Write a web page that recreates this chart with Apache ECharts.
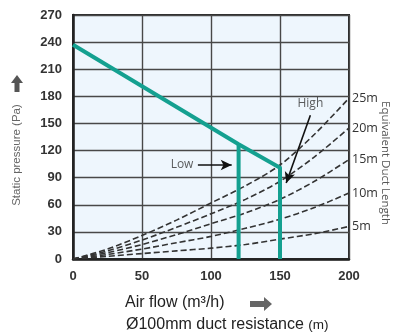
<!DOCTYPE html>
<html><head><meta charset="utf-8">
<script src="https://cdn.jsdelivr.net/npm/echarts@6/dist/echarts.min.js"></script>
<style>html,body{margin:0;padding:0;background:#fff}#c{width:398px;height:336px}</style>
</head><body><div id="c"></div><script>
// ---- data ----
const xTicks = [0, 50, 100, 150, 200];
const yTicks = [0, 30, 60, 90, 120, 150, 180, 210, 240, 270];
const flowPts = [0, 25, 50, 75, 100, 125, 150, 175, 200];
const duct5m  = [0, 3, 6, 9, 12, 16, 22, 28, 36];
const duct10m = [0, 5, 11, 18, 25, 34, 44, 57, 73];
const duct15m = [0, 7, 16, 27, 39, 51, 66, 86, 110];
const duct20m = [0, 9, 21, 35, 50, 66, 86, 113, 145];
const duct25m = [0, 11, 26, 43, 62, 81, 104, 138, 178];
const ductNames = ['5m', '10m', '15m', '20m', '25m'];
const fanFlow = [0, 120, 150, 150];
const fanPressure = [237, 127, 101, 0];
const lowFlow = [120, 120];
const lowPressure = [0, 127];

const ducts = [duct5m, duct10m, duct15m, duct20m, duct25m];
const green = '#14a090';
const series = [];
ducts.forEach((d, i) => {
  series.push({
    type: 'line', name: ductNames[i], smooth: 0.3, symbol: 'none',
    data: flowPts.map((f, j) => [f, d[j]]),
    lineStyle: { color: '#333', width: 1.6, type: [6, 3] },
    endLabel: { show: true, formatter: ductNames[i], color: '#333', fontSize: 12.5,
      fontFamily: 'Open Sans, Arial, sans-serif', distance: 3 },
    z: 3
  });
});
series.push({
  type: 'line', symbol: 'none', data: fanFlow.map((f, j) => [f, fanPressure[j]]),
  lineStyle: { color: green, width: 4, join: 'round' }, z: 5
});
series.push({
  type: 'line', symbol: 'none', data: lowFlow.map((f, j) => [f, lowPressure[j]]),
  lineStyle: { color: green, width: 4 }, z: 5
});
// arrows and labels
series.push({
  type: 'line', data: [], symbol: 'none',
  markLine: {
    silent: true, symbol: ['none', 'arrow'], symbolSize: [8, 11],
    lineStyle: { color: '#111', width: 1.6, type: 'solid' }, label: { show: false },
    data: [
      [{ coord: [90.5, 104] }, { coord: [115, 104] }],
      [{ coord: [172, 159] }, { coord: [154.5, 84] }]
    ]
  }, z: 6
});
series.push({
  type: 'scatter', symbolSize: 0, silent: true,
  data: [
    { value: [79, 104], label: { formatter: 'Low' } },
    { value: [172, 172], label: { formatter: 'High' } }
  ],
  label: { show: true, position: 'inside', color: '#333', fontSize: 12,
    fontFamily: 'Open Sans, Arial, sans-serif' }, z: 7
});

const chart = echarts.init(document.getElementById('c'));
chart.setOption({
  animation: false,
  grid: { left: 73, right: 49, top: 15, bottom: 77, show: true,
    backgroundColor: '#eef6fd', borderColor: '#2a2a2a', borderWidth: 2 },
  xAxis: {
    type: 'value', min: 0, max: 200, interval: 50,
    axisLine: { show: true, lineStyle: { color: '#222', width: 2.5 } },
    axisTick: { show: false },
    splitLine: { show: true, lineStyle: { color: '#484848', width: 1.4 } },
    axisLabel: { color: '#333', fontWeight: 'bold', fontSize: 13, margin: 11,
      fontFamily: 'Arial, Liberation Sans, sans-serif' }
  },
  yAxis: {
    type: 'value', min: 0, max: 270, interval: 30,
    axisLine: { show: true, lineStyle: { color: '#222', width: 2.5 } },
    axisTick: { show: false },
    splitLine: { show: true, lineStyle: { color: '#484848', width: 1.4 } },
    axisLabel: { color: '#333', fontWeight: 'bold', fontSize: 13, margin: 11,
      fontFamily: 'Arial, Liberation Sans, sans-serif' }
  },
  graphic: [
    { type: 'text', x: 17, y: 155, rotation: Math.PI / 2,
      style: { text: 'Static pressure (Pa)', fill: '#666', fontSize: 11.5,
        fontFamily: 'Arial, Liberation Sans, sans-serif', align: 'center', verticalAlign: 'middle' } },
    { type: 'polygon', shape: { points: [[17, 75], [23, 83], [19.5, 83], [19.5, 92], [14.5, 92], [14.5, 83], [11, 83]] },
      style: { fill: '#555' } },
    { type: 'text', x: 125, y: 303,
      style: { text: 'Air flow (m³/h)', fill: '#222', fontSize: 16,
        fontFamily: 'Arial, Liberation Sans, sans-serif', verticalAlign: 'middle' } },
    { type: 'polygon', shape: { points: [[250, 301], [264, 301], [264, 297], [272, 304], [264, 311], [264, 307], [250, 307]] },
      style: { fill: '#666' } },
    { type: 'text', x: 126, y: 325,
      style: { text: '{a|Ø100mm duct resistance }{b|(m)}', fill: '#222',
        fontFamily: 'Arial, Liberation Sans, sans-serif', verticalAlign: 'middle',
        rich: { a: { fontSize: 16, fill: '#222', fontFamily: 'Arial, Liberation Sans, sans-serif' },
                b: { fontSize: 13.5, fill: '#222', fontFamily: 'Arial, Liberation Sans, sans-serif' } } } },
    { type: 'text', x: 385, y: 163, rotation: -Math.PI / 2,
      style: { text: 'Equivalent Duct Length', fill: '#555', fontSize: 11.5,
        fontFamily: 'Open Sans, Arial, sans-serif', align: 'center', verticalAlign: 'middle' } }
  ],
  series: series
});
</script></body></html>
